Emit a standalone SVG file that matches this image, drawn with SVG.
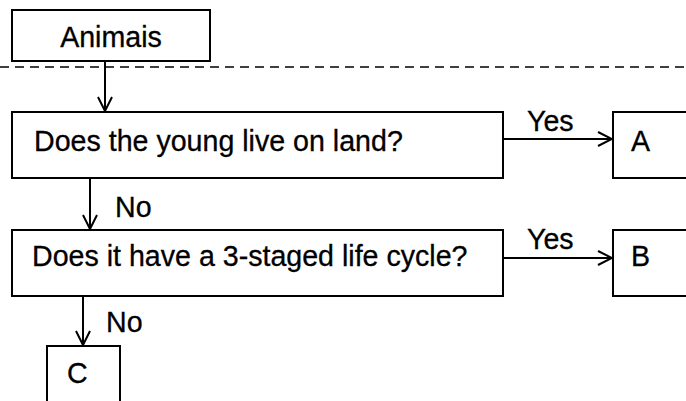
<svg xmlns="http://www.w3.org/2000/svg" width="686" height="401" viewBox="0 0 686 401">
<defs>
<style>
.box{fill:#fff;stroke:#000;stroke-width:2}
.t{font-family:"Liberation Sans",Arial,sans-serif;font-size:28.6px;fill:#000;stroke:#000;stroke-width:0.3}
.c{stroke:#000;stroke-width:2;fill:none}
</style>
<marker id="v" viewBox="0 0 16 16" refX="15" refY="8" markerWidth="16" markerHeight="16" markerUnits="userSpaceOnUse" orient="auto">
<polyline points="1,1 15,8 1,15" fill="none" stroke="#000" stroke-width="2"/>
</marker>
</defs>
<rect width="686" height="401" fill="#fff"/>
<line x1="0" y1="67" x2="686" y2="67" stroke="#000" stroke-width="1.3" stroke-dasharray="9,6"/>
<g id="animals"><rect class="box" x="12" y="10" width="198" height="51"/><text class="t" x="111" y="47" text-anchor="middle">Animais</text></g>
<g id="q1"><rect class="box" x="12" y="112" width="491" height="66"/><text class="t" x="34" y="151">Does the young live on land?</text></g>
<g id="a"><rect class="box" x="613" y="112" width="80" height="66"/><text class="t" x="631" y="151">A</text></g>
<g id="q2"><rect class="box" x="12" y="230" width="491" height="66"/><text class="t" x="32" y="266">Does it have a 3-staged life cycle?</text></g>
<g id="b"><rect class="box" x="613" y="230" width="80" height="66"/><text class="t" x="631" y="266">B</text></g>
<g id="c"><rect class="box" x="47" y="346" width="73" height="60"/><text class="t" x="67" y="383">C</text></g>
<g id="connectors">
<line class="c" x1="105" y1="61" x2="105" y2="111" marker-end="url(#v)"/>
<line class="c" x1="503" y1="139" x2="612" y2="139" marker-end="url(#v)"/>
<line class="c" x1="90" y1="178" x2="90" y2="229" marker-end="url(#v)"/>
<line class="c" x1="503" y1="258" x2="612" y2="258" marker-end="url(#v)"/>
<line class="c" x1="83" y1="296" x2="83" y2="345" marker-end="url(#v)"/>
<text class="t" x="527" y="131">Yes</text>
<text class="t" x="527" y="249">Yes</text>
<text class="t" x="115" y="217">No</text>
<text class="t" x="106" y="332">No</text>
</g>
</svg>
